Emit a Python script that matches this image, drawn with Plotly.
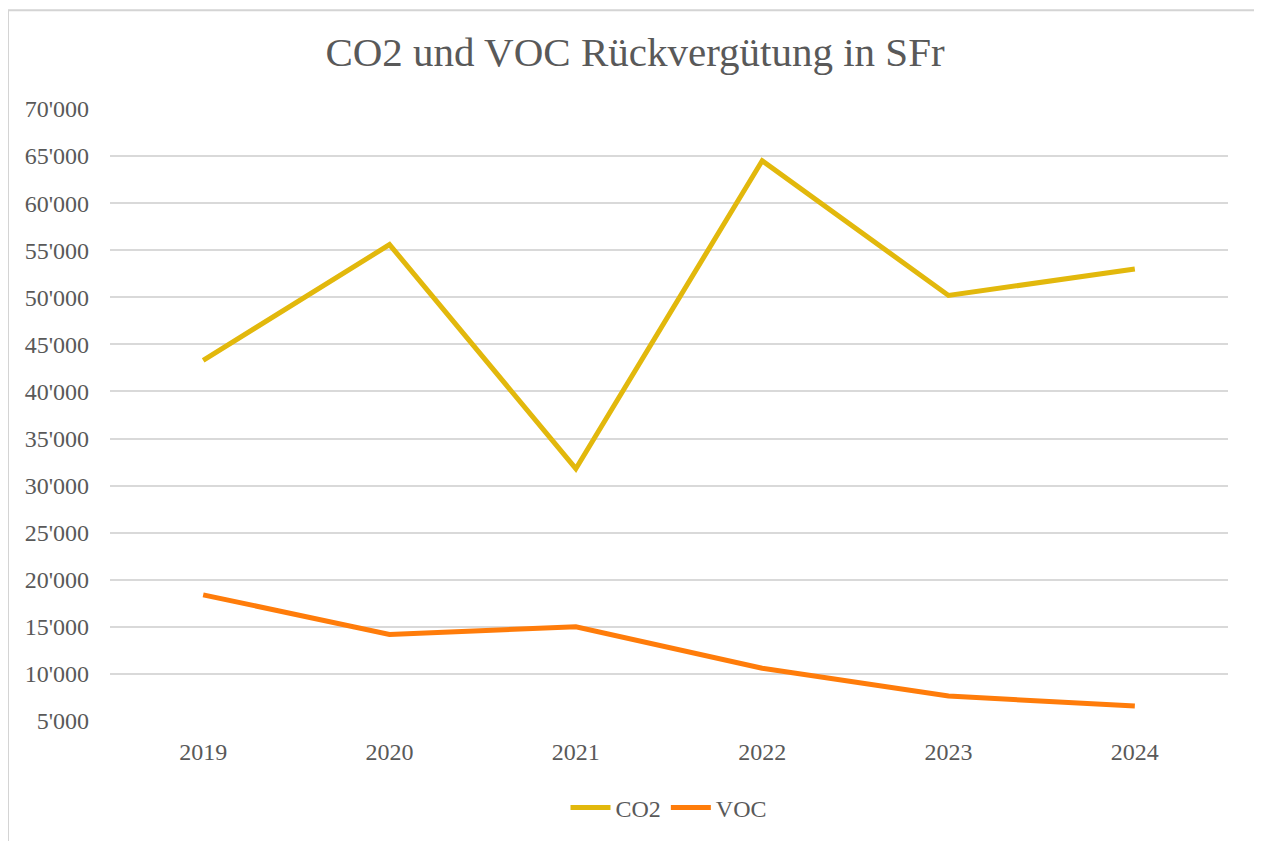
import plotly.graph_objects as go

years = ["2019", "2020", "2021", "2022", "2023", "2024"]
co2 = [43300, 55600, 31800, 64500, 50200, 53000]
voc = [18400, 14200, 15000, 10600, 7650, 6600]
y_ticks = [5000, 10000, 15000, 20000, 25000, 30000, 35000, 40000, 45000,
           50000, 55000, 60000, 65000, 70000]

FONT = "Liberation Serif"
TXT = "#595959"
OFF = 8  # page body margin

W, H = 1262 - OFF, 841 - OFF
L, T = 110 - OFF, 109 - OFF
R = 1262 - 1228
B = H - (722 - OFF)
pw, ph = W - L - R, H - T - B

def px_x(p):
    return (p - OFF - L) / pw

def px_y(p):
    return (H - B - (p - OFF)) / ph

fig = go.Figure()
fig.add_trace(go.Scatter(x=years, y=co2, name="CO2", mode="lines",
                         line=dict(color="#E2B80C", width=5)))
fig.add_trace(go.Scatter(x=years, y=voc, name="VOC", mode="lines",
                         line=dict(color="#FF7C0A", width=5)))

fig.add_shape(type="rect", xref="paper", yref="paper",
              x0=px_x(8), x1=px_x(1256), y0=px_y(870), y1=px_y(10),
              line=dict(color="#D4D4D4", width=2), layer="below")

fig.update_layout(
    width=W, height=H,
    margin=dict(l=L, r=R, t=T, b=B),
    paper_bgcolor="white", plot_bgcolor="white",
    separators=".'",
    font=dict(family=FONT, color=TXT, size=24),
    title=dict(text="CO2 und VOC Rückvergütung in SFr", x=0.5, xanchor="center",
               y=1 - (52 - OFF) / H, yanchor="middle",
               font=dict(family=FONT, size=41, color=TXT)),
    xaxis=dict(type="category", range=[-0.5, 5.5], showgrid=False,
               showline=False, ticks="", ticklabelstandoff=14,
               tickfont=dict(size=24, color=TXT)),
    yaxis=dict(range=[5000, 70000], tickvals=y_ticks, tickformat=",d",
               showgrid=True, gridcolor="#D9D9D9", gridwidth=1.5,
               zeroline=False, showline=False, ticks="", ticklabelstandoff=20,
               tickfont=dict(size=24, color=TXT)),
    showlegend=True,
    legend=dict(orientation="h", x=0.5, xanchor="center", y=px_y(808),
                yanchor="middle", font=dict(size=24, color=TXT),
                itemwidth=40, tracegroupgap=0, bgcolor="rgba(0,0,0,0)"),
)

fig.write_html("out.html")
